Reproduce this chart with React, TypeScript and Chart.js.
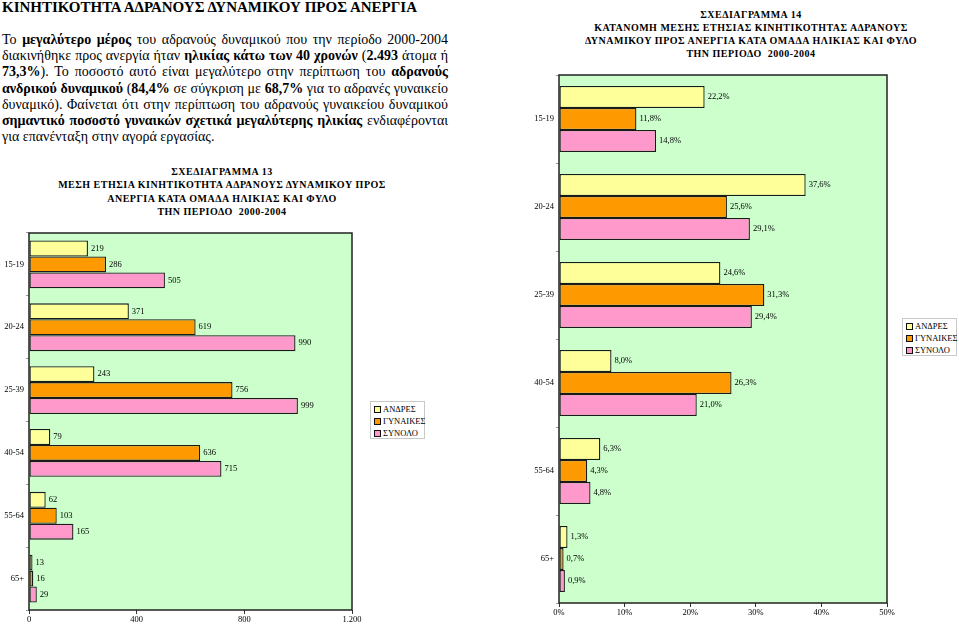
import React, { useEffect, useRef } from "react";
import { Chart, registerables } from "chart.js";
Chart.register(...registerables);

const ageGroups = ["15-19", "20-24", "25-39", "40-54", "55-64", "65+"];
const seriesNames = ["ΑΝΔΡΕΣ", "ΓΥΝΑΙΚΕΣ", "ΣΥΝΟΛΟ"];
const seriesColors = ["#FFFF99", "#FF9900", "#FF99CC"];

const countMen = [219, 371, 243, 79, 62, 13];
const countWomen = [286, 619, 756, 636, 103, 16];
const countTotal = [505, 990, 999, 715, 165, 29];
const countTicks = [0, 400, 800, 1200];

const shareMen = [22.2, 37.6, 24.6, 8.0, 6.3, 1.3];
const shareWomen = [11.8, 25.6, 31.3, 26.3, 4.3, 0.7];
const shareTotal = [14.8, 29.1, 29.4, 21.0, 4.8, 0.9];
const shareTicks = [0, 10, 20, 30, 40, 50];

const heading = "ΚΙΝΗΤΙΚΟΤΗΤΑ ΑΔΡΑΝΟΥΣ ΔΥΝΑΜΙΚΟΥ ΠΡΟΣ ΑΝΕΡΓΙΑ";
const title13 = [
  "ΣΧΕΔΙΑΓΡΑΜΜΑ 13",
  "ΜΕΣΗ ΕΤΗΣΙΑ ΚΙΝΗΤΙΚΟΤΗΤΑ ΑΔΡΑΝΟΥΣ ΔΥΝΑΜΙΚΟΥ ΠΡΟΣ",
  "ΑΝΕΡΓΙΑ ΚΑΤΑ ΟΜΑΔΑ ΗΛΙΚΙΑΣ ΚΑΙ ΦΥΛΟ",
  "ΤΗΝ ΠΕΡΙΟΔΟ  2000-2004",
];
const title14 = [
  "ΣΧΕΔΙΑΓΡΑΜΜΑ 14",
  "ΚΑΤΑΝΟΜΗ ΜΕΣΗΣ ΕΤΗΣΙΑΣ ΚΙΝΗΤΙΚΟΤΗΤΑΣ ΑΔΡΑΝΟΥΣ",
  "ΔΥΝΑΜΙΚΟΥ ΠΡΟΣ ΑΝΕΡΓΙΑ ΚΑΤΑ ΟΜΑΔΑ ΗΛΙΚΙΑΣ ΚΑΙ ΦΥΛΟ",
  "ΤΗΝ ΠΕΡΙΟΔΟ  2000-2004",
];

const SERIF = "'Liberation Serif', 'Times New Roman', serif";

const fmtThousands = (v: number) =>
  String(v).replace(/\B(?=(\d{3})+(?!\d))/g, ".");
const fmtPct = (v: number) => v.toFixed(1).replace(".", ",") + "%";

const framePlugin = {
  id: "frame",
  beforeDraw(chart: any) {
    const { ctx, chartArea: a } = chart;
    ctx.save();
    ctx.fillStyle = "#CCFFCC";
    ctx.fillRect(a.left, a.top, a.width, a.height);
    ctx.restore();
  },
  afterDatasetsDraw(chart: any, _args: any, opts: any) {
    const { ctx, chartArea: a } = chart;
    ctx.save();
    ctx.strokeStyle = "#222";
    ctx.lineWidth = 1.5;
    ctx.strokeRect(a.left, a.top, a.width, a.height);
    ctx.font = `8.5px ${SERIF}`;
    ctx.fillStyle = "#000";
    ctx.textAlign = "left";
    ctx.textBaseline = "middle";
    chart.data.datasets.forEach((ds: any, i: number) => {
      const meta = chart.getDatasetMeta(i);
      meta.data.forEach((el: any, j: number) => {
        ctx.fillText(opts.format(ds.data[j]), el.x + 3, el.y);
      });
    });
    ctx.restore();
  },
};

function makeConfig(p: {
  series: number[][];
  max: number;
  ticks: number[];
  tickFmt: (v: number) => string;
  labelFmt: (v: number) => string;
  yWidth: number;
  xHeight: number;
  padTop: number;
  padRight: number;
  catPct: number;
}): any {
  const font = { family: SERIF, size: 8.5 };
  return {
    type: "bar",
    data: {
      labels: ageGroups,
      datasets: p.series.map((d, i) => ({
        label: seriesNames[i],
        data: d,
        backgroundColor: seriesColors[i],
        borderColor: "#1a1a1a",
        borderWidth: 1.3,
        borderSkipped: false,
        categoryPercentage: p.catPct,
        barPercentage: 1,
      })),
    },
    options: {
      indexAxis: "y",
      responsive: false,
      animation: false,
      devicePixelRatio: 1,
      layout: { padding: { top: p.padTop, right: p.padRight, left: 0, bottom: 0 } },
      plugins: {
        legend: { display: false },
        tooltip: { enabled: false },
        frame: { format: p.labelFmt },
      },
      scales: {
        x: {
          type: "linear",
          min: 0,
          max: p.max,
          afterBuildTicks: (s: any) => {
            s.ticks = p.ticks.map((v) => ({ value: v }));
          },
          ticks: {
            callback: (v: any) => p.tickFmt(Number(v)),
            font,
            color: "#000",
            padding: 1,
            maxRotation: 0,
            autoSkip: false,
          },
          grid: {
            display: true,
            drawOnChartArea: false,
            drawTicks: true,
            tickLength: 4,
            color: "#333",
          },
          border: { display: false },
          afterFit: (s: any) => {
            s.height = p.xHeight;
          },
        },
        y: {
          type: "category",
          ticks: { font, color: "#000", padding: 2 },
          grid: {
            display: true,
            drawOnChartArea: false,
            drawTicks: true,
            tickLength: 3,
            offset: true,
            color: "#999",
          },
          border: { display: false },
          afterFit: (s: any) => {
            s.width = p.yWidth;
          },
        },
      },
    },
    plugins: [framePlugin],
  };
}

function BarChart(props: { config: any; left: number; top: number; width: number; height: number }) {
  const ref = useRef<HTMLCanvasElement>(null);
  useEffect(() => {
    const chart = new Chart(ref.current as HTMLCanvasElement, props.config);
    return () => chart.destroy();
  }, []);
  return (
    <canvas
      ref={ref}
      width={props.width}
      height={props.height}
      style={{
        position: "absolute",
        left: props.left,
        top: props.top,
        width: props.width,
        height: props.height,
      }}
    />
  );
}

function Legend(props: { left: number; top: number }) {
  return (
    <div
      style={{
        position: "absolute",
        left: props.left,
        top: props.top,
        width: 55,
        height: 38,
        border: "1px solid #c8c8c8",
        background: "#fff",
        fontFamily: SERIF,
        fontSize: 8.5,
        paddingTop: 1,
        boxSizing: "border-box",
        whiteSpace: "nowrap",
      }}
    >
      {seriesNames.map((n, i) => (
        <div key={n} style={{ height: 12, display: "flex", alignItems: "center", paddingLeft: 3 }}>
          <span
            style={{
              display: "inline-block",
              flexShrink: 0,
              width: 5,
              height: 5,
              border: "1px solid #111",
              background: seriesColors[i],
              marginRight: 2,
            }}
          />
          <span>{n}</span>
        </div>
      ))}
    </div>
  );
}

function TitleBlock(props: { lines: string[]; cx: number; top: number; pitch: number }) {
  return (
    <>
      {props.lines.map((l, i) => (
        <div
          key={i}
          style={{
            position: "absolute",
            left: props.cx - 250,
            width: 500,
            top: props.top + i * props.pitch - 6.5,
            height: 13,
            lineHeight: "13px",
            textAlign: "center",
            fontFamily: SERIF,
            fontWeight: "bold",
            fontSize: 10,
            letterSpacing: "0.5px",
            whiteSpace: "pre",
          }}
        >
          {l}
        </div>
      ))}
    </>
  );
}

const paraLines: React.ReactNode[] = [
  <>Το <b>μεγαλύτερο μέρος</b> του αδρανούς δυναμικού που την περίοδο 2000-2004</>,
  <>διακινήθηκε προς ανεργία ήταν <b>ηλικίας κάτω των 40 χρονών</b> (<b>2.493</b> άτομα ή</>,
  <><b>73,3%</b>). Το ποσοστό αυτό είναι μεγαλύτερο στην περίπτωση του <b>αδρανούς</b></>,
  <><b>ανδρικού δυναμικού</b> (<b>84,4%</b> σε σύγκριση με <b>68,7%</b> για το αδρανές γυναικείο</>,
  <>δυναμικό). Φαίνεται ότι στην περίπτωση του αδρανούς γυναικείου δυναμικού</>,
  <><b>σημαντικό ποσοστό γυναικών σχετικά μεγαλύτερης ηλικίας</b> ενδιαφέρονται</>,
  <>για επανένταξη στην αγορά εργασίας.</>,
];

export default function App() {
  const leftCfg = makeConfig({
    series: [countMen, countWomen, countTotal],
    max: 1200,
    ticks: countTicks,
    tickFmt: fmtThousands,
    labelFmt: (v) => fmtThousands(v),
    yWidth: 29,
    xHeight: 14,
    padTop: 8,
    padRight: 14,
    catPct: 0.76,
  });
  const rightCfg = makeConfig({
    series: [shareMen, shareWomen, shareTotal],
    max: 50,
    ticks: shareTicks,
    tickFmt: (v) => v + "%",
    labelFmt: fmtPct,
    yWidth: 59,
    xHeight: 21,
    padTop: 10,
    padRight: 13,
    catPct: 0.75,
  });
  return (
    <div
      style={{
        position: "fixed",
        left: 0,
        top: 0,
        width: 959,
        height: 624,
        overflow: "hidden",
        background: "#fff",
        color: "#000",
        fontFamily: SERIF,
      }}
    >
      <div
        style={{
          position: "absolute",
          left: 2,
          top: -2,
          fontFamily: SERIF,
          fontWeight: "bold",
          fontSize: 15,
          lineHeight: "18px",
          whiteSpace: "nowrap",
        }}
      >
        {heading}
      </div>
      {paraLines.map((l, i) => (
        <div
          key={i}
          style={{
            position: "absolute",
            left: 2,
            width: 446,
            top: 32 + i * 16.2,
            height: 16.2,
            lineHeight: "16.2px",
            fontFamily: SERIF,
            fontSize: 14,
            textAlign: "justify",
            textAlignLast: i === paraLines.length - 1 ? "left" : "justify",
            whiteSpace: "nowrap",
          }}
        >
          {l}
        </div>
      ))}
      <TitleBlock lines={title13} cx={222} top={171} pitch={13.5} />
      <TitleBlock lines={title14} cx={751} top={14} pitch={13.2} />
      <BarChart config={leftCfg} left={0} top={225} width={366} height={399} />
      <BarChart config={rightCfg} left={500} top={65} width={400} height={559} />
      <Legend left={370} top={401} />
      <Legend left={902} top={318} />
    </div>
  );
}
